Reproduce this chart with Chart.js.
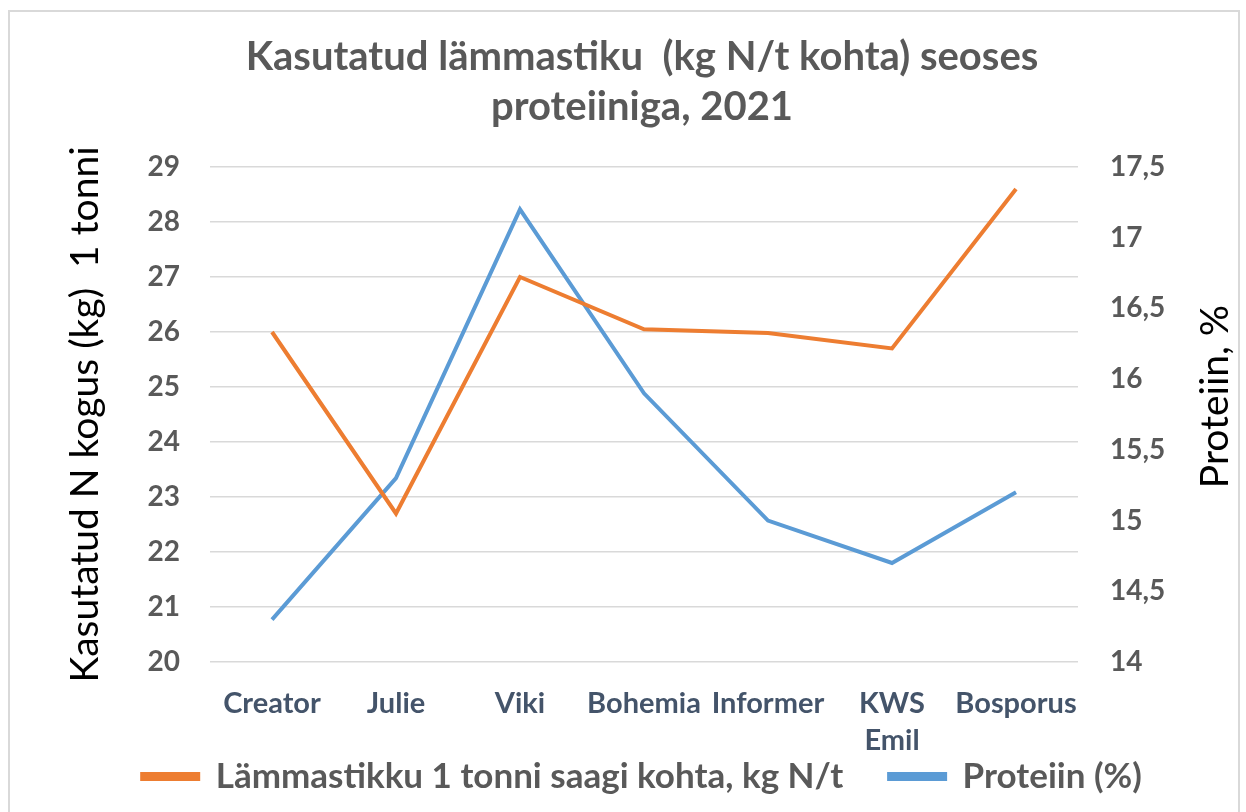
<!DOCTYPE html>
<html lang="et">
<head>
<meta charset="UTF-8">
<title>Kasutatud lämmastiku seoses proteiiniga</title>
<script src="https://cdn.jsdelivr.net/npm/chart.js"></script>
<style>
  html, body { margin: 0; padding: 0; background: #fff; overflow: hidden; }
  .frame {
    position: absolute; left: 8px; top: 10px;
    width: 1232px; height: 820px;
    border: 2px solid #d9d9d9; box-sizing: border-box;
  }
  .chart-box { position: absolute; left: 0; top: 0; width: 1228px; height: 802px; }
</style>
</head>
<body>
<div class="frame">
  <div class="chart-box"><canvas id="nChart"></canvas></div>
</div>
<script>
  const categories = ['Creator', 'Julie', 'Viki', 'Bohemia', 'Informer', ['KWS', 'Emil'], 'Bosporus'];
  const nPerTonne = [26.0, 22.7, 27.0, 26.05, 25.98, 25.7, 28.6];
  const protein = [14.3, 15.3, 17.2, 15.9, 15.0, 14.7, 15.2];
  const rightTitle = 'Proteiin, %';

  const gray = '#595959';
  const fontFamily = 'Lato, "Open Sans", sans-serif';

  // right axis title reads bottom-to-top like in the original
  const rightTitlePlugin = {
    id: 'rightTitle',
    afterDraw(chart) {
      const ctx = chart.ctx;
      const area = chart.chartArea;
      ctx.save();
      ctx.translate(1205, (area.top + area.bottom) / 2 - 18);
      ctx.rotate(-Math.PI / 2);
      ctx.fillStyle = '#000';
      ctx.font = '39px ' + fontFamily;
      ctx.textAlign = 'center';
      ctx.textBaseline = 'middle';
      ctx.fillText(rightTitle, 0, 0);
      ctx.restore();
    }
  };

  new Chart(document.getElementById('nChart'), {
    type: 'line',
    data: {
      labels: categories,
      datasets: [
        {
          // trailing spaces only widen the gap to the next legend item
          label: 'Lämmastikku 1 tonni saagi kohta, kg N/t\u2003\u2002',
          data: nPerTonne,
          borderColor: '#ED7D31',
          backgroundColor: '#ED7D31',
          borderWidth: 4,
          pointRadius: 0,
          yAxisID: 'y'
        },
        {
          label: 'Proteiin (%)',
          data: protein,
          borderColor: '#5B9BD5',
          backgroundColor: '#5B9BD5',
          borderWidth: 4,
          pointRadius: 0,
          yAxisID: 'y1'
        }
      ]
    },
    plugins: [rightTitlePlugin],
    options: {
      responsive: true,
      maintainAspectRatio: false,
      animation: false,
      layout: { padding: { left: 36, right: 0, top: 0, bottom: 10 } },
      plugins: {
        title: {
          display: true,
          text: ['Kasutatud lämmastiku  (kg N/t kohta) seoses', 'proteiiniga, 2021'],
          color: gray,
          font: { family: fontFamily, size: 40, weight: 'bold', lineHeight: 1.25 },
          padding: { top: 20, bottom: 35 }
        },
        legend: {
          position: 'bottom',
          labels: {
            color: gray,
            font: { family: fontFamily, size: 35, weight: 'bold', lineHeight: 1 },
            boxWidth: 56,
            boxHeight: 5,
            padding: 2
          }
        },
        tooltip: { enabled: false }
      },
      scales: {
        x: {
          offset: true,
          grid: { display: false },
          border: { display: false },
          afterFit: s => { s.height = 95; },
          ticks: {
            color: '#44546A',
            font: { family: fontFamily, size: 29, weight: 'bold', lineHeight: 1.25 },
            padding: 16,
            maxRotation: 0,
            autoSkip: false
          }
        },
        y: {
          position: 'left',
          min: 20,
          max: 29,
          afterFit: s => { s.width = 164; },
          ticks: {
            stepSize: 1,
            color: gray,
            font: { family: fontFamily, size: 28, weight: 'bold' },
            padding: 30
          },
          grid: { color: '#d9d9d9', lineWidth: 1.5, drawTicks: false },
          border: { display: false },
          title: {
            display: true,
            text: 'Kasutatud N kogus (kg)  1 tonni',
            color: '#000',
            font: { family: fontFamily, size: 39 },
            padding: { top: 16, bottom: 0 }
          }
        },
        y1: {
          position: 'right',
          min: 14,
          max: 17.5,
          afterFit: s => { s.width = 160; },
          ticks: {
            stepSize: 0.5,
            color: gray,
            font: { family: fontFamily, size: 28, weight: 'bold' },
            padding: 32,
            callback: v => String(v).replace('.', ',')
          },
          grid: { drawOnChartArea: false, drawTicks: false },
          border: { display: false }
        }
      }
    }
  });
</script>
</body>
</html>
